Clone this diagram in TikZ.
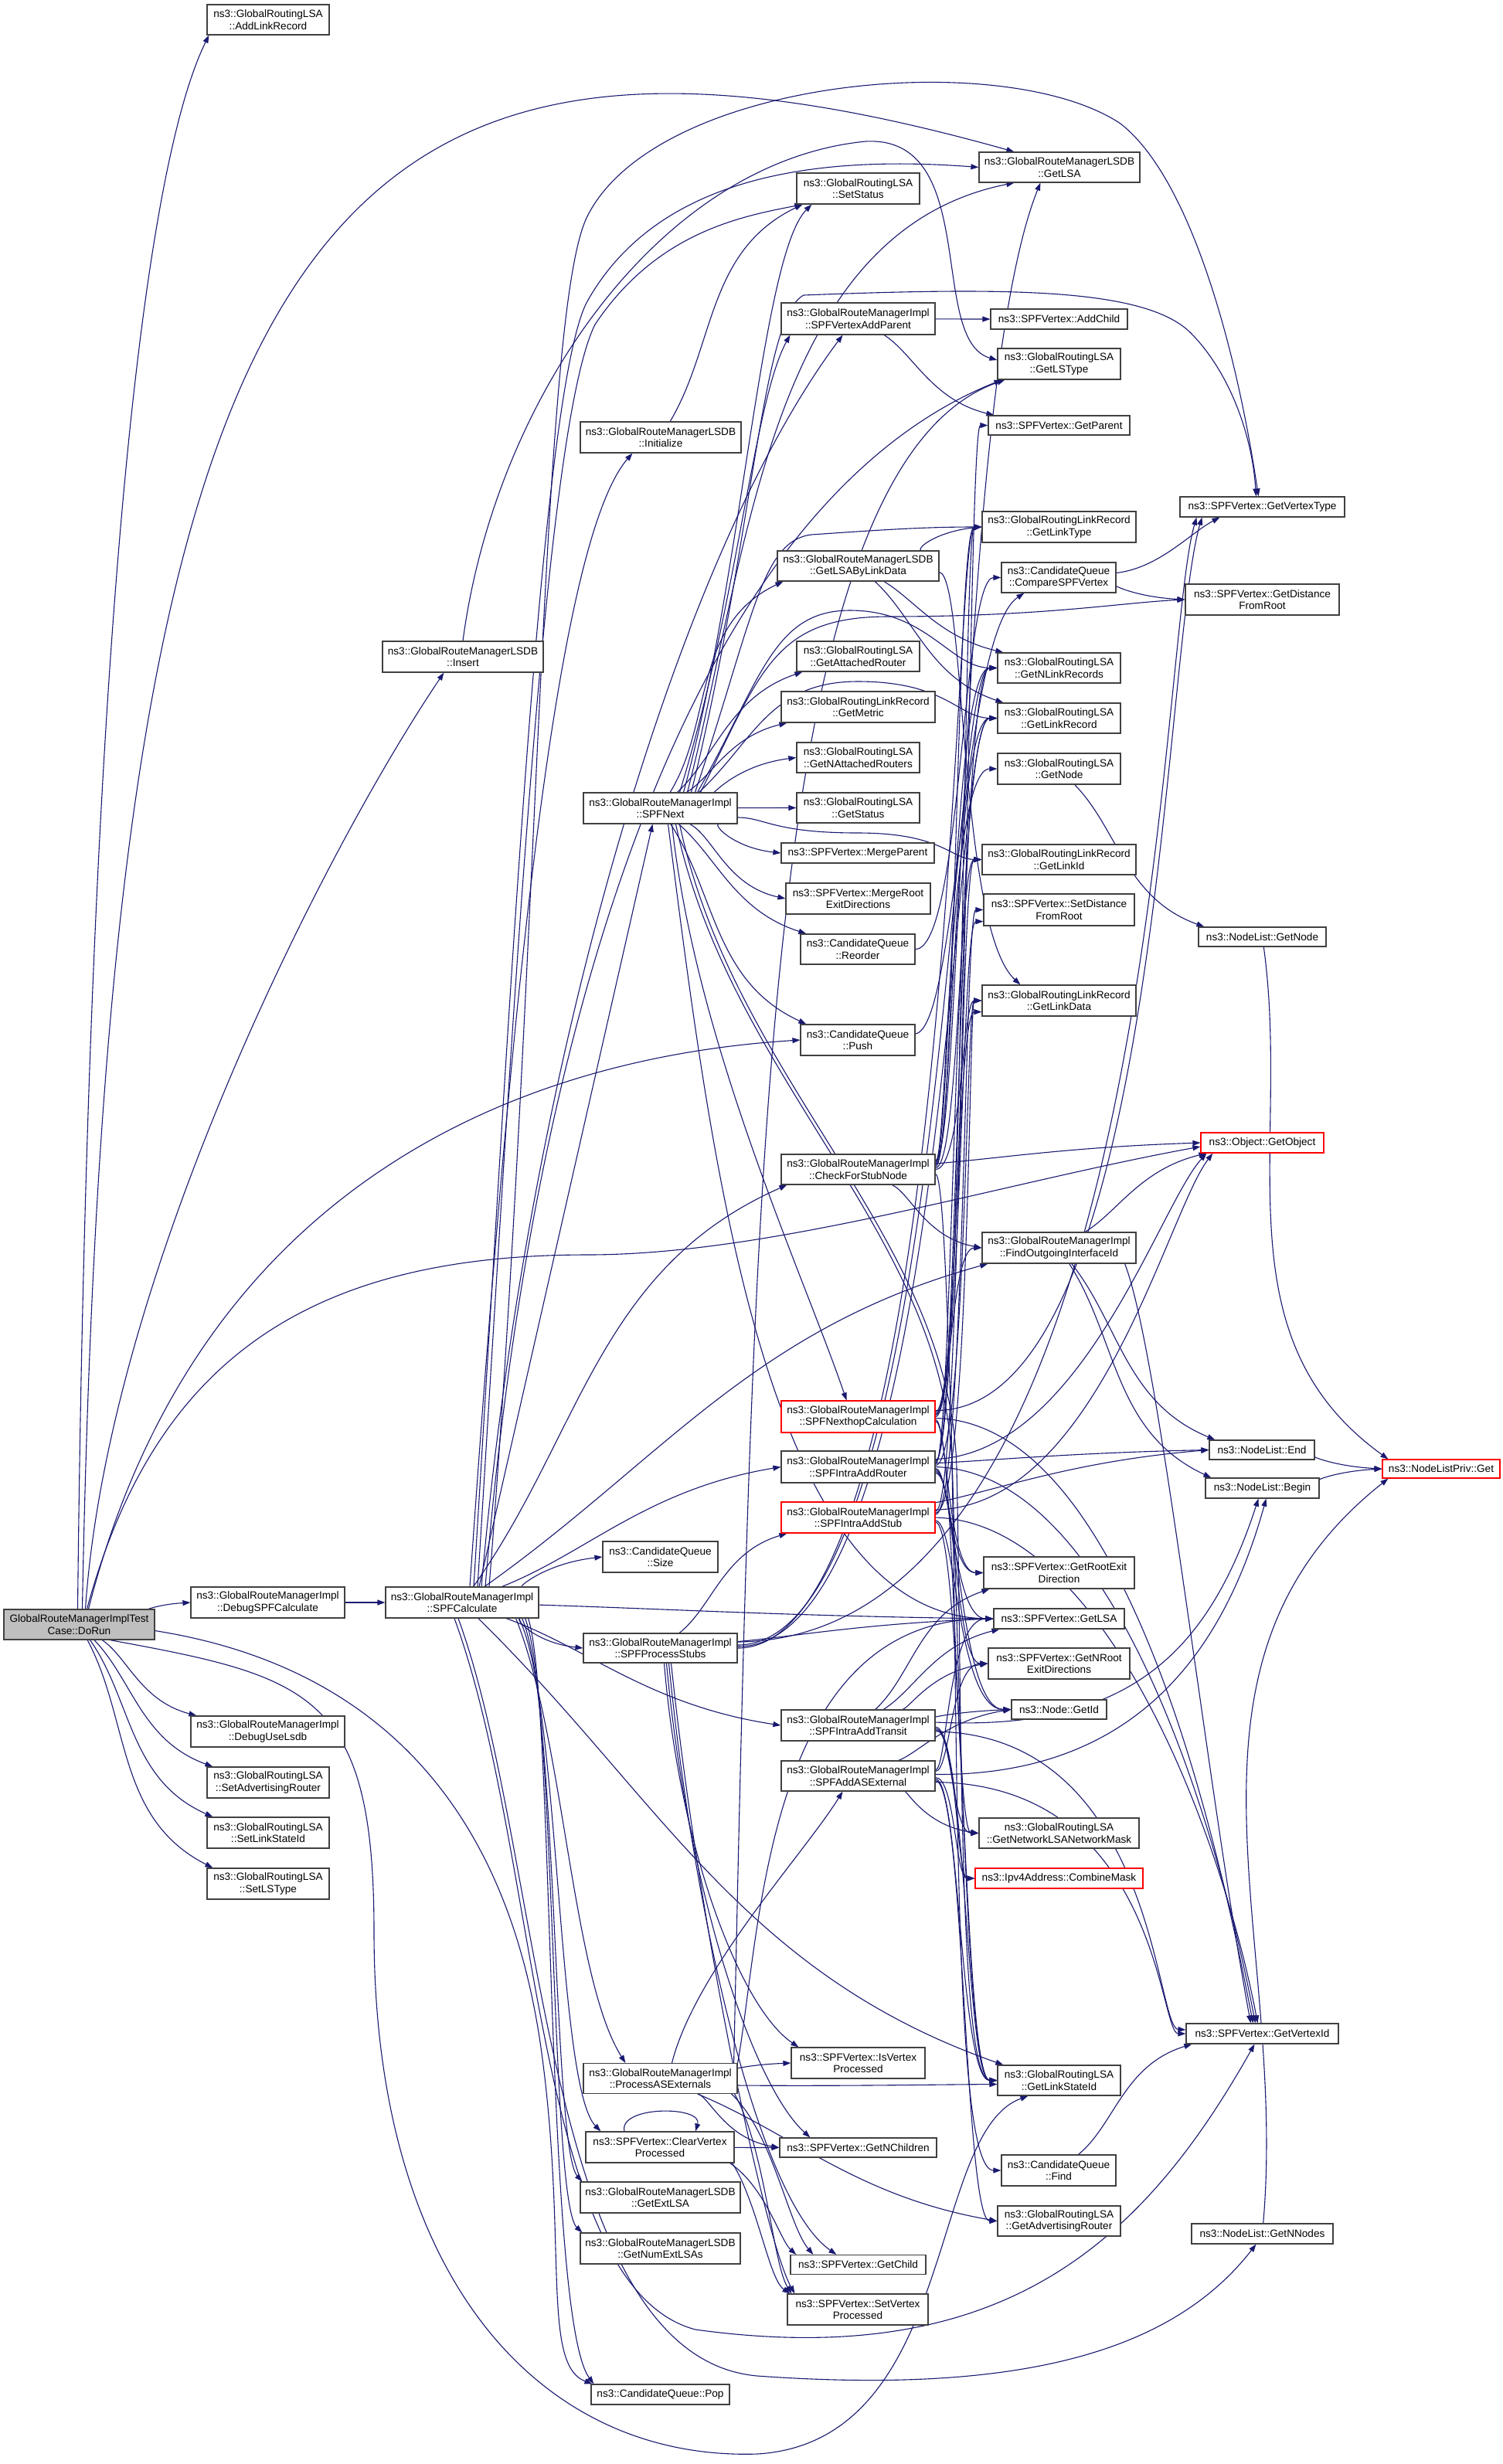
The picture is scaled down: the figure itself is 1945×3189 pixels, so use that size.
\documentclass[tikz,border=0pt]{standalone}
\usepackage{fontspec}
\setmainfont{Liberation Sans}
\usetikzlibrary{arrows.meta,calc}
\definecolor{mblue}{HTML}{191970}
\definecolor{ngray}{HTML}{BFBFBF}
\definecolor{nred}{HTML}{FF0000}
\definecolor{nborder}{HTML}{404040}
\pgfdeclarelayer{back}\pgfdeclarelayer{edges}\pgfsetlayers{back,edges,main}
\tikzset{
  nd/.style={draw=nborder,line width=1.2pt,fill=white,rectangle,inner sep=0pt,align=center,font=\fontsize{13.6pt}{15.3pt}\selectfont},
  rednd/.style={draw=nred},
  graynd/.style={fill=ngray},
  cg/.style={draw=mblue,line width=1.1pt,-{Triangle[length=10pt,width=7pt]}},
}
\newcommand\mynode[6][]{\node[nd,minimum width=#4pt,minimum height=#5pt,#1] (#2) at (#3) {#6};}
\newcommand\ecv[5][]{\draw[cg,#1] (#2) .. controls (#4) and (#5) .. (#3);}
\newcommand\ecc[4][]{\draw[cg,#1] let \p1=(#2),\p2=(#3) in (\p1) .. controls (#4pt,\y1) and (#4pt,\y2) .. (\p2);}
\newcommand\edg[3][]{%
  \pgfpointanchor{#2}{center}\pgfgetlastxy{\eax}{\eay}%
  \pgfpointanchor{#3}{center}\pgfgetlastxy{\ebx}{\eby}%
  \pgfmathsetmacro\ephi{atan2((\eby)-(\eay),(\ebx)-(\eax))}%
  \pgfmathtruncatemacro\ecase{\ephi>25 ? 1 : (\ephi<-25 ? 2 : 0)}%
  \ifcase\ecase \pgfpointanchor{#3}{west}\or \pgfpointanchor{#3}{south west}\or \pgfpointanchor{#3}{north west}\fi
  \pgfgetlastxy{\eex}{\eey}%
  \ifnum\ecase>0 \pgfmathsetmacro\eex{\eex+8}\else\pgfmathsetmacro\eex{\eex}\fi
  \pgfmathsetmacro\eey{\eey}%
  \pgfmathsetmacro\eout{max(-85,min(85,1.15*\ephi))}%
  \pgfmathsetmacro\ein{180+0.5*\ephi}%
  \pgfmathsetmacro\edist{0.3915*veclen(\eex-\eax,\eey-\eay)}%
  \pgfmathsetmacro\epax{\eax+\edist*cos(\eout)}%
  \pgfmathsetmacro\epay{\eay+\edist*sin(\eout)}%
  \pgfmathsetmacro\epbx{\eex+\edist*cos(\ein)}%
  \pgfmathsetmacro\epby{\eey+\edist*sin(\ein)}%
  \draw[cg,#1] (#2) .. controls (\epax pt,\epay pt) and (\epbx pt,\epby pt) .. (\eex pt,\eey pt);%
}
\begin{document}
\begin{tikzpicture}[x=1pt,y=-1pt]
\begin{pgfonlayer}{back}
\fill[white] (0,0) rectangle (1945,3189);
\end{pgfonlayer}
\useasboundingbox (0,0) rectangle (1945,3189);
% ---------------- nodes ----------------
\mynode[graynd]{DR}{102.5,2102.5}{195}{39}{GlobalRouteManagerImplTest\\Case::DoRun}
\mynode{ALR}{347,25.5}{158}{39}{ns3::GlobalRoutingLSA\\::AddLinkRecord}
\mynode{DSC}{346.5,2074}{199}{40}{ns3::GlobalRouteManagerImpl\\::DebugSPFCalculate}
\mynode{DUL}{346.5,2241}{199}{40}{ns3::GlobalRouteManagerImpl\\::DebugUseLsdb}
\mynode{SAR}{347,2307}{158}{40}{ns3::GlobalRoutingLSA\\::SetAdvertisingRouter}
\mynode{SLSI}{347,2372}{158}{40}{ns3::GlobalRoutingLSA\\::SetLinkStateId}
\mynode{SLST}{347,2438}{158}{40}{ns3::GlobalRoutingLSA\\::SetLSType}
\mynode{INS}{599,850}{208}{40}{ns3::GlobalRouteManagerLSDB\\::Insert}
\mynode{SPC}{598,2074}{198}{40}{ns3::GlobalRouteManagerImpl\\::SPFCalculate}
\mynode{INI}{855,566}{208}{40}{ns3::GlobalRouteManagerLSDB\\::Initialize}
\mynode{NXT}{854.5,1046}{199}{40}{ns3::GlobalRouteManagerImpl\\::SPFNext}
\mynode{SIZ}{854.5,2015}{149}{40}{ns3::CandidateQueue\\::Size}
\mynode{SPS}{854.5,2133}{199}{38}{ns3::GlobalRouteManagerImpl\\::SPFProcessStubs}
\mynode{PAE}{854.5,2690}{199}{39}{ns3::GlobalRouteManagerImpl\\::ProcessASExternals}
\mynode{CVP}{854,2779}{192}{40}{ns3::SPFVertex::ClearVertex\\Processed}
\mynode{GEL}{854.5,2844}{207}{40}{ns3::GlobalRouteManagerLSDB\\::GetExtLSA}
\mynode{GNE}{854.5,2910}{207}{40}{ns3::GlobalRouteManagerLSDB\\::GetNumExtLSAs}
\mynode{POP}{854.5,3099}{179}{26}{ns3::CandidateQueue::Pop}
\mynode{SST}{1110.5,244}{159}{40}{ns3::GlobalRoutingLSA\\::SetStatus}
\mynode{VAP}{1110.5,412.5}{199}{41}{ns3::GlobalRouteManagerImpl\\::SPFVertexAddParent}
\mynode{LBD}{1110.5,732.5}{209}{39}{ns3::GlobalRouteManagerLSDB\\::GetLSAByLinkData}
\mynode{GAR}{1110.5,849.5}{159}{39}{ns3::GlobalRoutingLSA\\::GetAttachedRouter}
\mynode{GME}{1110.5,915}{199}{40}{ns3::GlobalRoutingLinkRecord\\::GetMetric}
\mynode{GNA}{1110.5,980.5}{159}{39}{ns3::GlobalRoutingLSA\\::GetNAttachedRouters}
\mynode{GST}{1110.5,1045.5}{159}{39}{ns3::GlobalRoutingLSA\\::GetStatus}
\mynode{MPA}{1110,1104}{198}{26}{ns3::SPFVertex::MergeParent}
\mynode{MRE}{1110.5,1163}{187}{40}{ns3::SPFVertex::MergeRoot\\ExitDirections}
\mynode{REO}{1110,1228.5}{148}{39}{ns3::CandidateQueue\\::Reorder}
\mynode{PSH}{1110,1346}{148}{40}{ns3::CandidateQueue\\::Push}
\mynode{CSN}{1110.5,1513.5}{199}{39}{ns3::GlobalRouteManagerImpl\\::CheckForStubNode}
\mynode[rednd]{NHC}{1110.5,1833.5}{199}{41}{ns3::GlobalRouteManagerImpl\\::SPFNexthopCalculation}
\mynode{IAR}{1110.5,1898.5}{199}{41}{ns3::GlobalRouteManagerImpl\\::SPFIntraAddRouter}
\mynode[rednd]{IAS}{1110.5,1964}{199}{40}{ns3::GlobalRouteManagerImpl\\::SPFIntraAddStub}
\mynode{IAT}{1110.5,2233}{199}{40}{ns3::GlobalRouteManagerImpl\\::SPFIntraAddTransit}
\mynode{AAE}{1110.5,2298.5}{199}{39}{ns3::GlobalRouteManagerImpl\\::SPFAddASExternal}
\mynode{IVP}{1110.5,2670}{173}{40}{ns3::SPFVertex::IsVertex\\Processed}
\mynode{GNC}{1110.5,2779.5}{203}{25}{ns3::SPFVertex::GetNChildren}
\mynode{GCH}{1110.5,2931}{175}{25}{ns3::SPFVertex::GetChild}
\mynode{SVP}{1110,2989}{182}{40}{ns3::SPFVertex::SetVertex\\Processed}
\mynode{GLD}{1371,216.5}{208}{39}{ns3::GlobalRouteManagerLSDB\\::GetLSA}
\mynode{ACH}{1370.5,413}{177}{26}{ns3::SPFVertex::AddChild}
\mynode{GLT}{1370.5,471}{159}{40}{ns3::GlobalRoutingLSA\\::GetLSType}
\mynode{GPA}{1370.5,550.5}{183}{25}{ns3::SPFVertex::GetParent}
\mynode{GLK}{1370.5,682}{199}{40}{ns3::GlobalRoutingLinkRecord\\::GetLinkType}
\mynode{CSV}{1370,747.5}{148}{39}{ns3::CandidateQueue\\::CompareSPFVertex}
\mynode{GNL}{1370.5,864.5}{159}{39}{ns3::GlobalRoutingLSA\\::GetNLinkRecords}
\mynode{GLR}{1370.5,929.5}{159}{39}{ns3::GlobalRoutingLSA\\::GetLinkRecord}
\mynode{GND}{1370.5,995}{159}{40}{ns3::GlobalRoutingLSA\\::GetNode}
\mynode{GLI}{1370.5,1112.5}{199}{39}{ns3::GlobalRoutingLinkRecord\\::GetLinkId}
\mynode{SDR}{1370.5,1177.5}{195}{41}{ns3::SPFVertex::SetDistance\\FromRoot}
\mynode{GLDa}{1370.5,1295}{199}{40}{ns3::GlobalRoutingLinkRecord\\::GetLinkData}
\mynode{FOI}{1370.5,1615}{199}{40}{ns3::GlobalRouteManagerImpl\\::FindOutgoingInterfaceId}
\mynode{GRE}{1370.5,2035.5}{195}{41}{ns3::SPFVertex::GetRootExit\\Direction}
\mynode{GLV}{1370.5,2095}{169}{26}{ns3::SPFVertex::GetLSA}
\mynode{GNR}{1370.5,2153}{183}{40}{ns3::SPFVertex::GetNRoot\\ExitDirections}
\mynode{NGI}{1370.5,2212.5}{123}{25}{ns3::Node::GetId}
\mynode{NLM}{1370.5,2372.5}{207}{39}{ns3::GlobalRoutingLSA\\::GetNetworkLSANetworkMask}
\mynode[rednd]{CBM}{1370.5,2431}{217}{26}{ns3::Ipv4Address::CombineMask}
\mynode{GSI}{1370.5,2692.5}{159}{39}{ns3::GlobalRoutingLSA\\::GetLinkStateId}
\mynode{FND}{1370,2809}{148}{40}{ns3::CandidateQueue\\::Find}
\mynode{GAD}{1370.5,2874.5}{159}{39}{ns3::GlobalRoutingLSA\\::GetAdvertisingRouter}
\mynode{GVT}{1633.5,656}{213}{26}{ns3::SPFVertex::GetVertexType}
\mynode{GDR}{1633.5,776}{199}{40}{ns3::SPFVertex::GetDistance\\FromRoot}
\mynode{NLG}{1633.5,1212.5}{165}{25}{ns3::NodeList::GetNode}
\mynode[rednd]{GOB}{1633.5,1479}{159}{26}{ns3::Object::GetObject}
\mynode{NLE}{1633,1876.5}{136}{25}{ns3::NodeList::End}
\mynode{NLB}{1633.5,1926}{147}{26}{ns3::NodeList::Begin}
\mynode{GVI}{1633.5,2632}{197}{26}{ns3::SPFVertex::GetVertexId}
\mynode{GNN}{1633.5,2891}{183}{26}{ns3::NodeList::GetNNodes}
\mynode[rednd]{NPG}{1865,1901}{152}{24}{ns3::NodeListPriv::Get}
% ---------------- edges ----------------
\begin{pgfonlayer}{edges}
% DoRun
\ecv{[xshift=-2pt]DR.north}{[xshift=3pt]ALR.south west}{112,1000}{170,250}
\ecv{[xshift=4pt]DR.north}{[xshift=46pt]GLD.north west}{140,300}{400,-60}
\ecv{[xshift=8pt]DR.north}{[xshift=80pt]INS.south west}{140,1650}{420,1100}
\ecv{[xshift=12pt]DR.north}{PSH.west}{250,1550}{650,1370}
\draw[cg] ([xshift=10pt]DR.north) .. controls (200,1760) and (400,1624) .. (760,1624) .. controls (1000,1624) and (1300,1530) .. ([yshift=-5pt]GOB.west);
\edg{DR}{DSC}
\edg{DR}{DUL}
\edg{DR}{SAR}
\edg{DR}{SLSI}
\edg{DR}{SLST}
\draw[cg] ([yshift=-8pt]DR.east) .. controls (450,2150) and (650,2300) .. (700,2650) .. controls (735,2900) and (700,3060) .. ([xshift=2pt]POP.north west);
\draw[cg] ([xshift=40pt]DR.south) .. controls (400,2170) and (484,2190) .. (484,2500) .. controls (484,2950) and (700,3185) .. (980,3176) .. controls (1240,3160) and (1200,2760) .. ([xshift=40pt]GSI.south west);
% DebugSPFCalculate, Insert, Initialize
\edg{DSC}{SPC}
\draw[cg] (INS.north) .. controls (640,520) and (850,210) .. (1120,183) .. controls (1270,175) and (1200,440) .. ([yshift=5pt]GLT.west);
\edg{INI}{SST}
% SPFCalculate
\draw[cg] ([xshift=15pt]SPC.north) .. controls (660,1300) and (700,500) .. (760,390) .. controls (850,230) and (1050,200) .. (GLD.west);
\draw[cg] ([xshift=20pt]SPC.north) .. controls (665,1300) and (705,550) .. (770,420) .. controls (850,300) and (960,280) .. ([xshift=8pt]SST.south west);
\ecv{[xshift=10pt]SPC.north}{[xshift=68pt]INI.south west}{660,1300}{720,700}
\ecv{[xshift=25pt]SPC.north}{[xshift=-20pt]VAP.south}{680,1400}{870,729}
\ecv{[xshift=30pt]SPC.north}{[xshift=6pt]GLT.south west}{690,1300}{900,650}
\draw[cg] ([xshift=35pt]SPC.north) .. controls (700,1200) and (700,400) .. (760,280) .. controls (850,100) and (1300,60) .. (1450,160) .. controls (1540,230) and (1600,450) .. ([xshift=-5pt]GVT.north);
\draw[cg] ([xshift=22pt]SPC.north) -- ([xshift=-10pt]NXT.south);
\edg{SPC}{CSN}
\edg{SPC}{SIZ}
\edg{SPC}{IAR}
\edg{SPC}{FOI}
\edg{SPC}{IAT}
\edg{SPC}{SPS}
\edg{SPC}{GLV}
\edg{SPC}{GSI}
\ecv{[xshift=-30pt]SPC.south east}{[xshift=55pt]PAE.north west}{730,2250}{740,2560}
\ecv{[xshift=-26pt]SPC.south east}{[xshift=20pt]CVP.north west}{725,2200}{720,2700}
\ecv{[xshift=-22pt]SPC.south east}{[xshift=3pt]GEL.north west}{722,2200}{715,2780}
\ecv{[xshift=-18pt]SPC.south east}{[xshift=3pt]GNE.north west}{720,2200}{712,2850}
\ecv{[xshift=-14pt]SPC.south east}{[xshift=4pt]POP.north west}{718,2200}{705,3000}
\draw[cg] ([xshift=-10pt]SPC.south) .. controls (700,2400) and (690,2960) .. (900,3015) .. controls (1300,3070) and (1480,2900) .. ([xshift=-10pt]GVI.south);
\draw[cg] ([xshift=-5pt]SPC.south) .. controls (705,2400) and (700,3050) .. (980,3075) .. controls (1330,3100) and (1520,3040) .. ([xshift=-8pt]GNN.south);
% SPFNext
\ecv{[xshift=30pt]NXT.north}{[xshift=20pt]SST.south west}{960,750}{985,330}
\ecv{[xshift=35pt]NXT.north}{[xshift=46pt]GLD.south west}{968,720}{995,300}
\ecv{[xshift=25pt]NXT.north}{[xshift=12pt]VAP.south west}{955,780}{975,520}
\draw[cg] ([xshift=40pt]NXT.north) .. controls (975,700) and (985,410) .. (1040,382) .. controls (1300,372) and (1480,372) .. (1540,430) .. controls (1590,480) and (1620,560) .. ([xshift=-8pt]GVT.north);
\draw[cg] ([xshift=45pt]NXT.north) .. controls (975,800) and (985,700) .. (1050,692) .. controls (1150,685) and (1200,682) .. (GLK.west);
\draw[cg] ([xshift=48pt]NXT.north) .. controls (985,880) and (1000,790) .. (1100,790) .. controls (1200,790) and (1230,864) .. (GNL.west);
\draw[cg] ([xshift=50pt]NXT.north) .. controls (975,960) and (995,882) .. (1110,882) .. controls (1225,882) and (1240,929) .. (GLR.west);
\draw[cg] ([yshift=-12pt]NXT.east) .. controls (990,1058) and (1000,1078) .. (1110,1078) .. controls (1220,1078) and (1230,1112) .. (GLI.west);
\draw[cg] ([xshift=52pt]NXT.north) .. controls (985,870) and (1000,798) .. (1150,798) .. controls (1350,798) and (1450,780) .. (GDR.west);
\edg{NXT}{LBD}
\edg{NXT}{GAR}
\edg{NXT}{GME}
\edg{NXT}{GNA}
\edg{NXT}{GST}
\edg{NXT}{MPA}
\edg{NXT}{MRE}
\edg{NXT}{REO}
\edg{NXT}{PSH}
\ecv{[xshift=15pt]NXT.south}{[xshift=-15pt]NHC.north}{900,1350}{1040,1650}
\ecv{[xshift=10pt]NXT.south}{GLV.west}{920,1500}{990,2090}
\draw[cg] ([xshift=25pt]NXT.south) .. controls (950,1400) and (1230,1600) .. (1238,1900) .. controls (1245,2200) and (1240,2692) .. (GSI.west);
\draw[cg] ([xshift=20pt]NXT.south) .. controls (945,1400) and (1225,1600) .. (1232,1900) .. controls (1240,2300) and (1235,2809) .. (FND.west);
% SPFVertexAddParent, GetLSAByLinkData, Reorder, Push
\edg{VAP}{ACH}
\edg{VAP}{GPA}
\edg{LBD}{GLK}
\edg{LBD}{GNL}
\edg{LBD}{GLR}
\ecv{[yshift=-8pt]LBD.east}{[xshift=50pt]GLDa.north west}{1250,745}{1240,1200}
\ecc{REO.east}{CSV.west}{1245}
\ecv{[yshift=8pt]PSH.east}{[xshift=30pt]CSV.south west}{1240,1330}{1245,820}
% CheckForStubNode
\draw[cg] ([yshift=12pt]CSN.east) .. controls (1245,1500) and (1240,500) .. ([xshift=80pt]GLD.south west);
\ecc{[yshift=10pt]CSN.east}{GND.west}{1226}
\ecc{[yshift=8pt]CSN.east}{GNL.west}{1230}
\ecc{[yshift=6pt]CSN.east}{GLR.west}{1233}
\ecc{[yshift=4pt]CSN.east}{GLK.west}{1237}
\ecc{[yshift=2pt]CSN.east}{GLI.west}{1241}
\ecc{CSN.east}{GLDa.west}{1245}
\ecc{[yshift=-6pt]CSN.east}{GSI.west}{1236}
\edg{CSN}{GOB}
\edg{CSN}{FOI}
% SPFNexthopCalculation
\draw[cg] ([yshift=8pt]NHC.east) .. controls (1500,1826) and (1505,840) .. ([xshift=-78pt]GVT.south);
\ecc{[yshift=6pt]NHC.east}{GPA.west}{1252}
\ecc{[yshift=4pt]NHC.east}{[yshift=6pt]SDR.south west}{1244}
\ecc{[yshift=2pt]NHC.east}{[yshift=6pt]GLDa.south west}{1238}
\ecc{NHC.east}{FOI.west}{1230}
\ecc{[yshift=-4pt]NHC.east}{GRE.west}{1226}
\ecc{[yshift=-6pt]NHC.east}{NLM.west}{1236}
\ecv{[yshift=-2pt]NHC.east}{[xshift=-12pt]GVI.north}{1450,1840}{1570,2350}
% SPFIntraAddRouter
\ecc{[yshift=8pt]IAR.east}{GLK.west}{1246}
\ecc{[yshift=6pt]IAR.east}{GNL.west}{1240}
\ecc{[yshift=4pt]IAR.east}{GLR.west}{1234}
\ecc{[yshift=2pt]IAR.east}{GLDa.west}{1250}
\ecc{[yshift=-2pt]IAR.east}{GRE.west}{1228}
\ecc{[yshift=-4pt]IAR.east}{GLV.west}{1232}
\ecc{[yshift=-6pt]IAR.east}{GNR.west}{1236}
\ecc{[yshift=-8pt]IAR.east}{NGI.west}{1240}
\edg{IAR}{NLE}
\ecv{[yshift=10pt]IAR.east}{[xshift=8pt]GOB.south west}{1400,1880}{1500,1560}
\ecv{IAR.east}{[xshift=-9pt]GVI.north}{1440,1905}{1575,2360}
% SPFIntraAddStub
\ecc{[yshift=8pt]IAS.east}{GLI.west}{1242}
\ecc{[yshift=6pt]IAS.east}{GLDa.west}{1254}
\ecc{[yshift=4pt]IAS.east}{SDR.west}{1248}
\ecc{[yshift=-4pt]IAS.east}{NGI.west}{1238}
\ecc{[yshift=-6pt]IAS.east}{GSI.west}{1246}
\edg{IAS}{NLE}
\ecv{[yshift=10pt]IAS.east}{[xshift=16pt]GOB.south west}{1420,1950}{1510,1570}
\ecv{IAS.east}{[xshift=-6pt]GVI.north}{1430,1970}{1580,2370}
% SPFIntraAddTransit
\edg{IAT}{GLV}
\edg{IAT}{GRE}
\edg{IAT}{GNR}
\edg{IAT}{NGI}
\ecc{[yshift=-4pt]IAT.east}{NLM.west}{1232}
\ecc{[yshift=-6pt]IAT.east}{CBM.west}{1238}
\ecc{[yshift=-2pt]IAT.east}{GSI.west}{1250}
\ecv{[yshift=4pt]IAT.east}{[xshift=-5pt]NLB.south}{1450,2240}{1560,2150}
\ecv{[yshift=-8pt]IAT.east}{[yshift=5pt]GVI.west}{1495,2245}{1495,2625}
% SPFAddASExternal
\ecc{[yshift=8pt]AAE.east}{GLV.west}{1226}
\ecc{[yshift=6pt]AAE.east}{GNR.west}{1230}
\edg{AAE}{NGI}
\edg{AAE}{NLM}
\ecc{[yshift=-2pt]AAE.east}{CBM.west}{1236}
\ecc{[yshift=-4pt]AAE.east}{GSI.west}{1242}
\ecc{[yshift=-6pt]AAE.east}{GAD.west}{1248}
\ecv{[yshift=2pt]AAE.east}{[xshift=5pt]NLB.south}{1460,2298}{1580,2150}
\ecv{[yshift=-8pt]AAE.east}{GVI.west}{1500,2310}{1500,2632}
% SPFProcessStubs
\draw[cg] ([yshift=8pt]SPS.east) .. controls (1498,2120) and (1498,840) .. ([xshift=-85pt]GVT.south);
\edg{SPS}{GLV}
\ecc{[yshift=4pt]SPS.east}{GNL.west}{1226}
\ecc{[yshift=2pt]SPS.east}{GLR.west}{1230}
\ecc{SPS.east}{GLK.west}{1234}
\edg{SPS}{IAS}
\ecv{[xshift=5pt]SPS.south}{[xshift=10pt]IVP.north west}{880,2400}{960,2600}
\ecv{[xshift=8pt]SPS.south}{[xshift=40pt]GNC.north west}{890,2450}{975,2700}
\ecv{[xshift=11pt]SPS.south}{[xshift=60pt]GCH.north west}{900,2500}{985,2850}
\ecv{[xshift=14pt]SPS.south}{[xshift=10pt]SVP.north west}{905,2500}{990,2900}
% ProcessASExternals
\ecv{[xshift=15pt]PAE.north}{[xshift=-20pt]AAE.south}{900,2550}{1040,2400}
\edg{PAE}{IVP}
\edg{PAE}{GNC}
\ecv{[xshift=-8pt]PAE.south east}{[xshift=30pt]GCH.north west}{1000,2760}{1020,2880}
\ecv{[xshift=-4pt]PAE.south east}{[xshift=6pt]SVP.north west}{990,2780}{1000,2930}
\ecv{PAE.north east}{GLV.west}{985,2500}{990,2095}
\ecv{[xshift=-5pt]PAE.north east}{[xshift=10pt]GLT.south west}{975,1500}{990,600}
\ecv{[yshift=-9pt]PAE.east}{[yshift=-5pt]GSI.west}{1100,2700}{1200,2698}
\edg{PAE}{GAD}
% ClearVertexProcessed
\draw[cg] ([xshift=-46pt]CVP.north) .. controls (800,2725) and (910,2725) .. ([xshift=46pt]CVP.north);
\edg{CVP}{GNC}
\ecv{[xshift=-6pt]CVP.south east}{[xshift=8pt]GCH.north west}{990,2830}{1010,2900}
\ecv{[xshift=-3pt]CVP.south east}{[xshift=4pt]SVP.north west}{980,2850}{995,2950}
% column 5 callers
\edg{FND}{GVI}
\ecv{[yshift=6pt]CSV.east}{[xshift=-55pt]GVT.south}{1500,735}{1540,690}
\edg{CSV}{GDR}
\edg{GND}{NLG}
\edg{FOI}{GOB}
\edg{FOI}{NLE}
\edg{FOI}{NLB}
\ecv{[xshift=-15pt]FOI.south east}{[xshift=-15pt]GVI.north}{1500,1750}{1560,2300}
% column 6 callers
\edg{NLG}{NPG}
\edg{NLE}{NPG}
\edg{NLB}{NPG}
\edg{GNN}{NPG}
\end{pgfonlayer}
\end{tikzpicture}
\end{document}
